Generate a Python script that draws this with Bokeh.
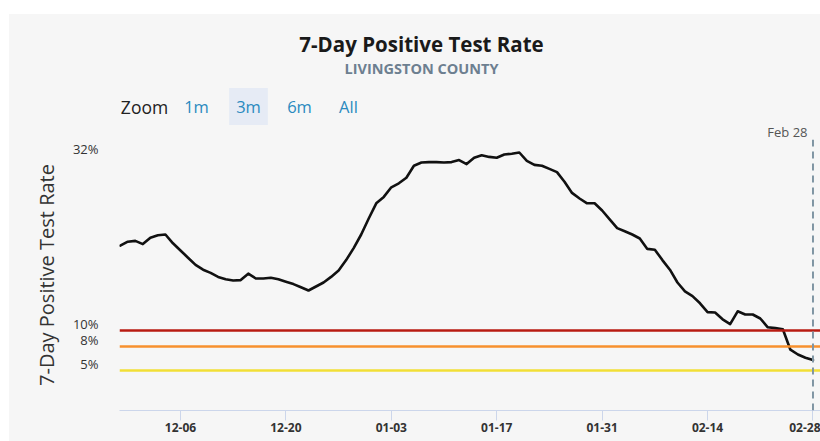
import pandas as pd
from bokeh.plotting import figure
from bokeh.models import (Range1d, Span, Label, FixedTicker, DatetimeTickFormatter,
                          CustomJSTickFormatter, ColumnDataSource, Spacer)
from bokeh.layouts import column, row
from bokeh.embed import file_html
from bokeh.resources import INLINE

# ---------------- data ----------------
title_text = "7-Day Positive Test Rate"
subtitle_text = "LIVINGSTON COUNTY"
y_axis_title = "7-Day Positive Test Rate"
start_date = "2020-11-28"
rates = [
    20.6, 21.1, 21.2, 20.8, 21.6, 21.9, 22.0, 20.9, 20.0, 19.1,
    18.2, 17.6, 17.2, 16.7, 16.4, 16.25, 16.3, 17.1, 16.5, 16.5,
    16.6, 16.4, 16.1, 15.8, 15.4, 15.0, 15.5, 16.0, 16.7, 17.5,
    18.8, 20.3, 22.0, 24.0, 25.9, 26.7, 27.9, 28.4, 29.1, 30.6,
    31.0, 31.05, 31.05, 31.0, 31.05, 31.3, 30.8, 31.6, 31.9, 31.7,
    31.6, 32.0, 32.1, 32.25, 31.2, 30.7, 30.6, 30.2, 29.8, 28.6,
    27.2, 26.5, 25.9, 25.9, 25.0, 23.9, 22.8, 22.4, 22.0, 21.5,
    20.2, 20.1, 18.8, 17.6, 16.0, 14.9, 14.3, 13.4, 12.3, 12.25,
    11.4, 10.8, 12.4, 12.0, 12.0, 11.5, 10.4, 10.3, 10.15, 7.6,
    7.0, 6.6, 6.3,
]
dates = pd.date_range(start_date, periods=len(rates), freq="D")

threshold_values = [10, 8, 5]
threshold_colors = ["#b81b12", "#f7902e", "#f2df36"]

ytick_values = [5, 8, 10, 32]
xtick_dates = ["2020-12-06", "2020-12-20", "2021-01-03", "2021-01-17",
               "2021-01-31", "2021-02-14", "2021-02-28"]

zoom_label = "Zoom"
zoom_buttons = ["1m", "3m", "6m", "All"]
selected_button = "3m"

marker_date = "2021-02-28"
marker_text = "Feb 28"

# ---------------- layout constants ----------------
PAGE_W, PAGE_H = 820, 441
OFF_X, OFF_Y = 9, 14              # white margin around the grey panel
W = PAGE_W - OFF_X                # 811
HEADER_H = 125                    # header panel height (page y 14..139)
MAIN_H = PAGE_H - OFF_Y - HEADER_H
FRAME_LEFT_PAGE = 119
BORDER_L = FRAME_LEFT_PAGE - OFF_X
BORDER_B = 31
BG = "#f6f6f6"
FONT = "Open Sans"
PX_PER_UNIT = 8.0
LABEL_SHIFT = 7 / PX_PER_UNIT     # y tick labels sit 7px above their values
Y_TOP = (MAIN_H - BORDER_B) / PX_PER_UNIT

def ms(d):
    return pd.Timestamp(d).value / 1e6

day_ms = 86400000.0
x0 = ms(start_date) - 0.1 * day_ms
x1 = ms(start_date) + 93.0 * day_ms

# ---------------- header (title, subtitle, zoom buttons) ----------------
hdr = figure(width=W, height=HEADER_H, output_backend="svg", toolbar_location=None,
             x_range=Range1d(FRAME_LEFT_PAGE, PAGE_W), y_range=Range1d(0, HEADER_H),
             x_axis_location=None, y_axis_location=None,
             min_border_left=BORDER_L, min_border_right=0, min_border_top=0,
             min_border_bottom=0)
hdr.background_fill_color = BG
hdr.border_fill_color = BG
hdr.outline_line_color = None
hdr.grid.visible = False

def hlab(text, px, py, **kw):
    """px, py are page coordinates (y down)."""
    opts = dict(text_font=FONT, text_align="center", text_baseline="middle",
                text_color="#333333", text_font_size="14px")
    opts.update(kw)
    hdr.add_layout(Label(x=px, y=(OFF_Y + HEADER_H) - py, text=text, **opts))

hlab(title_text, 421, 43, text_font_size="20.5px", text_font_style="bold", text_color="#1a1a1a")
hlab(subtitle_text, 421, 68, text_font_size="14.5px", text_font_style="bold", text_color="#6d7f90")
hlab(zoom_label, 144, 106, text_font_size="17.5px", text_color="#222222")
btn_x = [196, 248, 299, 348]
for t, bx in zip(zoom_buttons, btn_x):
    extra = {}
    if t == selected_button:
        extra = dict(background_fill_color="#e6ebf5", padding=7)
    hlab(t, bx, 106, text_font_size="16.5px", text_color="#2a8abf", **extra)
hlab(marker_text, 807, 131, text_font_size="13px", text_align="right", text_color="#555555")

# ---------------- main chart ----------------
p = figure(width=W, height=MAIN_H, x_axis_type="datetime", output_backend="svg",
           toolbar_location=None, x_range=Range1d(x0, x1), y_range=Range1d(0, Y_TOP),
           min_border_left=BORDER_L, min_border_right=0, min_border_top=0,
           min_border_bottom=BORDER_B)
p.background_fill_color = BG
p.border_fill_color = BG
p.outline_line_color = None
p.grid.visible = False

# x axis
xa = p.xaxis[0]
xa.ticker = FixedTicker(ticks=[ms(d) for d in xtick_dates])
xa.formatter = DatetimeTickFormatter(days="%m-%d", months="%m-%d", years="%m-%d",
                                     hours="%m-%d", minutes="%m-%d")
xa.axis_line_color = "#ccd6eb"
xa.major_tick_line_color = "#ccd6eb"
xa.major_tick_out = 10
xa.major_tick_in = 0
xa.minor_tick_line_color = None
xa.major_label_standoff = 2
xa.major_label_text_font = FONT
xa.major_label_text_font_style = "bold"
xa.major_label_text_font_size = "12px"
xa.major_label_text_color = "#333333"

# y axis
ya = p.yaxis[0]
ya.ticker = FixedTicker(ticks=[v + LABEL_SHIFT for v in ytick_values])
ya.formatter = CustomJSTickFormatter(
    args=dict(shift=LABEL_SHIFT),
    code="return Math.round(tick - shift) + '%';")
ya.axis_line_color = None
ya.major_tick_line_color = None
ya.minor_tick_line_color = None
ya.major_tick_out = 0
ya.major_label_standoff = 21
ya.major_label_text_font = FONT
ya.major_label_text_font_size = "13px"
ya.major_label_text_color = "#333333"
ya.axis_label = y_axis_title
ya.axis_label_text_font = FONT
ya.axis_label_text_font_style = "normal"
ya.axis_label_text_font_size = "20px"
ya.axis_label_text_color = "#333333"
ya.axis_label_standoff = 10

# threshold lines
for v, c in zip(threshold_values, threshold_colors):
    p.add_layout(Span(location=v, dimension="width", line_color=c, line_width=2.5))

# marker line
p.add_layout(Span(location=ms(marker_date), dimension="height", line_color="#7f95a3",
                  line_width=2, line_dash="7 5"))

# data line
src = ColumnDataSource(dict(date=dates, rate=rates))
p.line("date", "rate", source=src, line_color="#111111", line_width=2.6,
       line_join="round", line_cap="round")

charts = column(hdr, p, styles={"background-color": BG})
layout = column(Spacer(width=PAGE_W, height=OFF_Y),
                row(Spacer(width=OFF_X, height=PAGE_H - OFF_Y), charts))

open("out.html", "w").write(file_html(layout, INLINE))
